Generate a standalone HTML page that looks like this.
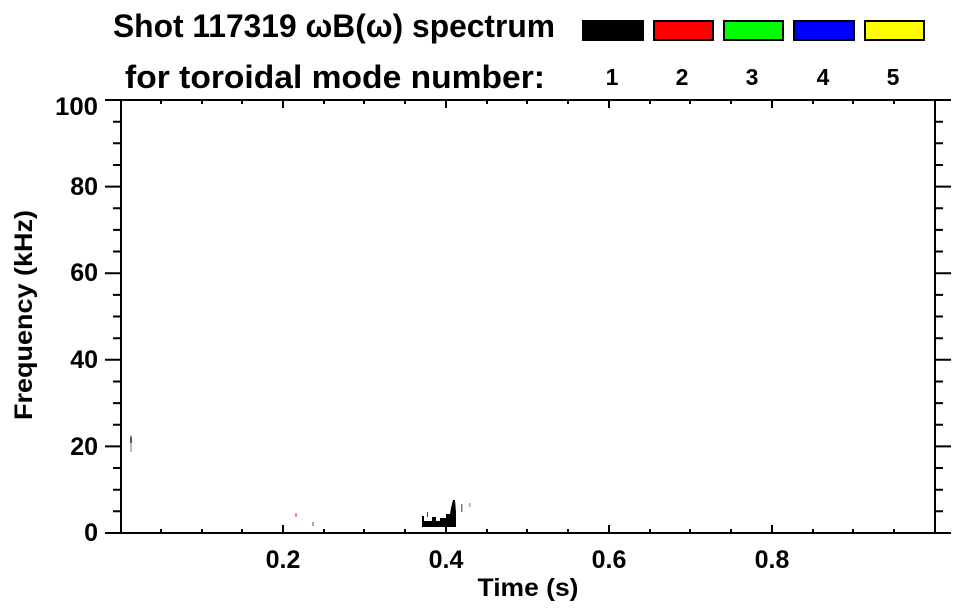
<!DOCTYPE html>
<html><head><meta charset="utf-8"><style>html,body{margin:0;padding:0;background:#fff}svg{display:block}</style></head>
<body>
<svg width="963" height="615" viewBox="0 0 963 615" xmlns="http://www.w3.org/2000/svg" font-family="Liberation Sans, sans-serif" font-weight="bold">
<text x="113" y="37" font-size="32" textLength="442" lengthAdjust="spacingAndGlyphs">Shot 117319 ωB(ω) spectrum</text>
<text x="125" y="88" font-size="32" textLength="420" lengthAdjust="spacingAndGlyphs">for toroidal mode number:</text>
<g stroke="#000" stroke-width="2">
<rect x="583" y="21" width="60" height="19" fill="#000"/>
<rect x="654" y="21" width="59" height="19" fill="#f00"/>
<rect x="724" y="21" width="59" height="19" fill="#0f0"/>
<rect x="794" y="21" width="60" height="19" fill="#00f"/>
<rect x="865" y="21" width="59" height="19" fill="#ff0"/>
</g>
<g font-size="23" text-anchor="middle">
<text x="612" y="85">1</text><text x="682" y="85">2</text><text x="752" y="85">3</text><text x="823" y="85">4</text><text x="893" y="85">5</text>
</g>
<g font-size="25" text-anchor="end">
<text x="98" y="115" textLength="43" lengthAdjust="spacingAndGlyphs">100</text><text x="98" y="195">80</text><text x="98" y="281">60</text><text x="98" y="368">40</text><text x="98" y="455">20</text><text x="98" y="541">0</text>
</g>
<g font-size="25" text-anchor="middle">
<text x="283" y="568">0.2</text><text x="446" y="568">0.4</text><text x="609" y="568">0.6</text><text x="772" y="568">0.8</text>
<text x="528" y="596" textLength="101" lengthAdjust="spacingAndGlyphs">Time (s)</text>
<text transform="translate(32,315) rotate(-90)" textLength="210" lengthAdjust="spacingAndGlyphs">Frequency (kHz)</text>
</g>
<!-- data -->
<rect x="130" y="435" width="2" height="17" fill="#bbb"/>
<rect x="130" y="437" width="2" height="6" fill="#555"/>
<rect x="295" y="513" width="2" height="4" fill="#f88"/>
<rect x="312" y="522" width="2" height="4" fill="#aaa"/>
<rect x="469" y="503" width="1.5" height="4" fill="#aaa"/>
<path d="M422 527 L422 516 L424 516 L424 521 L432 521 L432 517 L436 517 L436 521 L440 521 L440 518 L446 518 L446 514 L450 514 L451 508 L453 500 L455 500 L456 512 L456 527 Z" fill="#000"/>
<rect x="427" y="512" width="1" height="5" fill="#444"/>
<rect x="461" y="504" width="1.5" height="8" fill="#777"/>
<g stroke="#000" stroke-width="2" fill="none">
<rect x="121" y="100" width="814" height="433"/>
<path d="M105 100H121M105 186.6H121M105 273.2H121M105 359.8H121M105 446.4H121M105 533H121
M113 121.7H121M113 143.3H121M113 165H121M113 208.2H121M113 229.9H121M113 251.5H121M113 294.9H121M113 316.5H121M113 338.2H121M113 381.5H121M113 403.1H121M113 424.8H121M113 468H121M113 489.7H121M113 511.3H121
M935 100H951M935 186.6H951M935 273.2H951M935 359.8H951M935 446.4H951M935 533H951
M935 121.7H943M935 143.3H943M935 165H943M935 208.2H943M935 229.9H943M935 251.5H943M935 294.9H943M935 316.5H943M935 338.2H943M935 381.5H943M935 403.1H943M935 424.8H943M935 468H943M935 489.7H943M935 511.3H943"/>
<path d="M283 533V525M446 533V525M609 533V525M772 533V525
M161 533V529M202 533V529M242 533V529M324 533V529M364 533V529M405 533V529M487 533V529M527 533V529M568 533V529M650 533V529M690 533V529M731 533V529M813 533V529M853 533V529M894 533V529
M283 100V108M446 100V108M609 100V108M772 100V108
M161 100V104M202 100V104M242 100V104M324 100V104M364 100V104M405 100V104M487 100V104M527 100V104M568 100V104M650 100V104M690 100V104M731 100V104M813 100V104M853 100V104M894 100V104"/>
</g>
</svg>
</body></html>
